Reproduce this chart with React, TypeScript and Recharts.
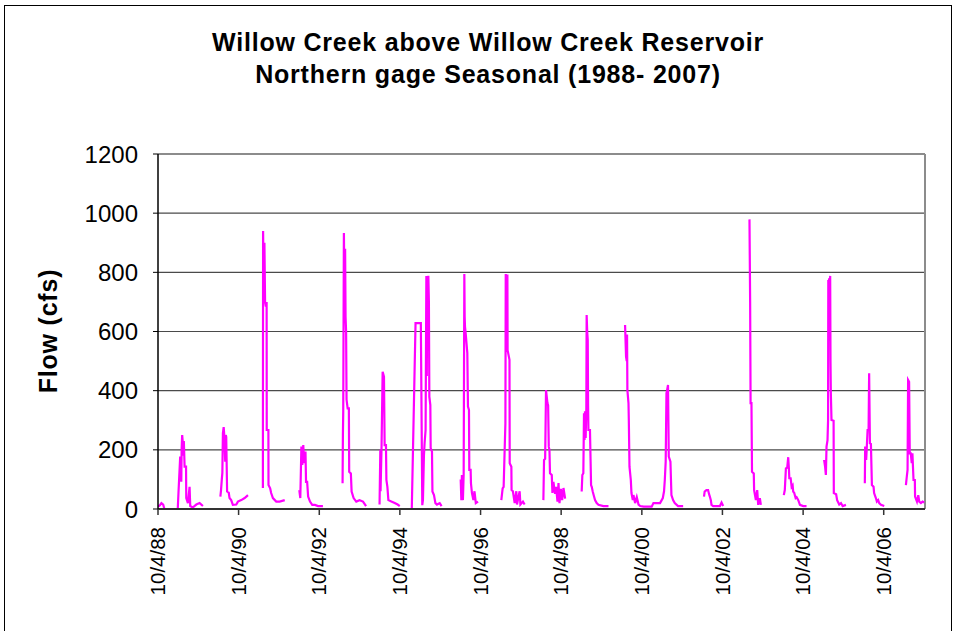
import { LineChart, Line, XAxis, YAxis, CartesianGrid, ReferenceLine } from 'recharts';

type Pt = [string, number];

// daily flow (cfs), one array per gage season
const season1988: Pt[] = [
  ['1988-10-04', 8], ['1988-10-20', 12], ['1988-11-04', 20], ['1988-11-20', 15],
  ['1988-12-01', 0], ['1989-01-25', 0],
];
const season1989: Pt[] = [
  ['1989-04-01', 0], ['1989-04-08', 59], ['1989-04-23', 177], ['1989-05-03', 92],
  ['1989-05-06', 200], ['1989-05-11', 250], ['1989-05-17', 223], ['1989-05-22', 180],
  ['1989-05-26', 230], ['1989-06-02', 143], ['1989-06-15', 143], ['1989-06-17', 37],
  ['1989-07-02', 20], ['1989-07-17', 75], ['1989-07-23', 10], ['1989-08-15', 5],
  ['1989-09-16', 15], ['1989-10-16', 20], ['1989-11-15', 10],
];
const season1990: Pt[] = [
  ['1990-04-22', 42], ['1990-04-28', 64], ['1990-05-05', 100], ['1990-05-10', 122],
  ['1990-05-15', 257], ['1990-05-22', 277], ['1990-05-29', 240], ['1990-06-05', 160],
  ['1990-06-10', 250], ['1990-06-14', 244], ['1990-06-22', 59], ['1990-07-07', 55],
  ['1990-07-14', 37], ['1990-07-29', 30], ['1990-08-13', 14], ['1990-09-13', 15],
  ['1990-09-28', 25], ['1990-10-28', 30], ['1990-11-28', 37], ['1990-12-28', 47],
];
const season1991: Pt[] = [
  ['1991-05-12', 71], ['1991-05-14', 940], ['1991-05-20', 730], ['1991-05-26', 900],
  ['1991-06-01', 700], ['1991-06-08', 684], ['1991-06-15', 700], ['1991-06-16', 267],
  ['1991-07-01', 267], ['1991-07-02', 81], ['1991-07-17', 70], ['1991-07-26', 54],
  ['1991-08-11', 37], ['1991-09-10', 25], ['1991-10-11', 25], ['1991-11-26', 30],
];
const season1992: Pt[] = [
  ['1992-04-06', 64], ['1992-04-15', 37], ['1992-04-25', 211], ['1992-05-03', 149],
  ['1992-05-12', 216], ['1992-05-20', 155], ['1992-06-01', 194], ['1992-06-06', 92],
  ['1992-06-16', 92], ['1992-06-25', 42], ['1992-07-12', 25], ['1992-08-01', 14],
  ['1992-08-25', 14], ['1992-09-23', 10], ['1992-11-06', 10],
];
const season1993: Pt[] = [
  ['1993-05-03', 87], ['1993-05-06', 250], ['1993-05-09', 330], ['1993-05-15', 933],
  ['1993-05-21', 700], ['1993-05-26', 880], ['1993-05-30', 650], ['1993-06-04', 600],
  ['1993-06-08', 370], ['1993-06-18', 340], ['1993-06-29', 340], ['1993-07-02', 126],
  ['1993-07-17', 120], ['1993-07-24', 59], ['1993-08-11', 37], ['1993-09-04', 25],
  ['1993-10-04', 30], ['1993-11-04', 25], ['1993-12-02', 10],
];
const season1994: Pt[] = [
  ['1994-04-03', 15], ['1994-04-10', 200], ['1994-04-12', 60], ['1994-04-21', 210],
  ['1994-05-01', 464], ['1994-05-13', 447], ['1994-05-19', 216], ['1994-05-31', 216],
  ['1994-06-04', 98], ['1994-06-13', 75], ['1994-06-22', 30], ['1994-07-19', 25],
  ['1994-08-18', 20], ['1994-09-14', 15], ['1994-10-03', 10],
];
const season1995: Pt[] = [
  ['1995-01-20', 0], ['1995-02-23', 628], ['1995-04-12', 628], ['1995-04-25', 13],
  ['1995-05-01', 30], ['1995-05-10', 180], ['1995-05-16', 223], ['1995-05-25', 267],
  ['1995-06-01', 788], ['1995-06-05', 450], ['1995-06-09', 780], ['1995-06-14', 550],
  ['1995-06-19', 788], ['1995-06-24', 700], ['1995-06-28', 380], ['1995-07-07', 351],
  ['1995-07-10', 206], ['1995-07-22', 194], ['1995-07-26', 59], ['1995-08-09', 47],
  ['1995-08-22', 20], ['1995-09-05', 15], ['1995-09-30', 20], ['1995-10-17', 10],
];
const season1996: Pt[] = [
  ['1996-04-07', 100], ['1996-04-13', 30], ['1996-04-18', 115], ['1996-04-27', 30],
  ['1996-05-04', 118], ['1996-05-10', 794], ['1996-05-13', 650], ['1996-05-16', 616],
  ['1996-05-22', 595], ['1996-06-06', 527], ['1996-06-12', 346], ['1996-06-21', 335],
  ['1996-06-24', 132], ['1996-07-06', 132], ['1996-07-09', 87], ['1996-07-18', 54],
  ['1996-07-31', 30], ['1996-08-10', 60], ['1996-08-22', 20], ['1996-09-11', 25],
];
const season1997: Pt[] = [
  ['1997-04-10', 30], ['1997-04-22', 70], ['1997-05-01', 75], ['1997-05-17', 290],
  ['1997-05-20', 794], ['1997-05-28', 780], ['1997-06-04', 793], ['1997-06-06', 537],
  ['1997-06-23', 504], ['1997-06-25', 155], ['1997-07-10', 143], ['1997-07-12', 64],
  ['1997-07-24', 60], ['1997-08-09', 20], ['1997-08-24', 60], ['1997-08-30', 15],
  ['1997-09-23', 60], ['1997-09-30', 15], ['1997-10-23', 25], ['1997-11-07', 15],
];
const season1998: Pt[] = [
  ['1998-04-26', 30], ['1998-05-02', 166], ['1998-05-12', 170], ['1998-05-20', 402],
  ['1998-06-02', 358], ['1998-06-08', 350], ['1998-06-14', 210], ['1998-06-20', 200],
  ['1998-06-25', 121], ['1998-07-11', 115], ['1998-07-17', 54], ['1998-07-26', 92],
  ['1998-08-10', 51], ['1998-08-19', 75], ['1998-09-01', 25], ['1998-09-10', 88],
  ['1998-09-19', 20], ['1998-10-01', 68], ['1998-10-13', 30], ['1998-10-25', 71],
  ['1998-11-09', 35],
];
const season1999: Pt[] = [
  ['1999-04-08', 59], ['1999-04-14', 115], ['1999-04-23', 121], ['1999-04-29', 324],
  ['1999-05-04', 233], ['1999-05-08', 330], ['1999-05-14', 240], ['1999-05-20', 340],
  ['1999-05-23', 656], ['1999-05-28', 600], ['1999-06-02', 571], ['1999-06-05', 350],
  ['1999-06-08', 267], ['1999-06-22', 267], ['1999-07-02', 81], ['1999-07-08', 75],
  ['1999-07-17', 59], ['1999-07-29', 42], ['1999-08-07', 30], ['1999-08-22', 20],
  ['1999-09-07', 14], ['1999-10-22', 10], ['1999-12-07', 10],
];
const season2000: Pt[] = [
  ['2000-05-05', 622], ['2000-05-14', 515], ['2000-05-20', 500], ['2000-05-23', 590],
  ['2000-05-26', 402], ['2000-06-05', 358], ['2000-06-08', 301], ['2000-06-14', 143],
  ['2000-06-26', 98], ['2000-07-02', 54], ['2000-07-14', 30], ['2000-07-20', 47],
  ['2000-08-04', 20], ['2000-08-19', 40], ['2000-09-04', 15], ['2000-09-19', 10],
  ['2000-10-20', 8], ['2001-01-01', 8], ['2001-01-17', 20], ['2001-03-18', 20],
  ['2001-04-12', 37], ['2001-04-23', 60], ['2001-04-30', 98], ['2001-05-08', 160],
  ['2001-05-15', 392], ['2001-05-20', 400], ['2001-05-29', 419], ['2001-06-05', 177],
  ['2001-06-20', 160], ['2001-06-29', 47], ['2001-07-14', 30], ['2001-07-29', 20],
  ['2001-08-28', 10], ['2001-10-13', 10],
];
const season2002: Pt[] = [
  ['2002-04-20', 42], ['2002-04-26', 59], ['2002-05-12', 64], ['2002-05-27', 64],
  ['2002-06-05', 50], ['2002-06-12', 42], ['2002-06-21', 30], ['2002-06-27', 14],
  ['2002-07-12', 10], ['2002-09-11', 10], ['2002-09-26', 22], ['2002-10-11', 10],
];
const season2003: Pt[] = [
  ['2003-06-06', 979], ['2003-06-12', 700], ['2003-06-16', 358], ['2003-06-24', 358],
  ['2003-06-29', 126], ['2003-07-15', 120], ['2003-07-18', 64], ['2003-08-03', 30],
  ['2003-08-15', 64], ['2003-08-24', 14], ['2003-09-08', 37], ['2003-09-17', 14],
];
const season2004: Pt[] = [
  ['2004-04-12', 47], ['2004-04-21', 64], ['2004-05-01', 137], ['2004-05-13', 140],
  ['2004-05-22', 175], ['2004-05-28', 137], ['2004-06-01', 104], ['2004-06-13', 104],
  ['2004-06-22', 75], ['2004-07-01', 80], ['2004-07-06', 59], ['2004-07-15', 55],
  ['2004-07-28', 37], ['2004-08-06', 40], ['2004-08-21', 30], ['2004-09-05', 14],
  ['2004-10-05', 10], ['2004-11-04', 10],
];
const season2005: Pt[] = [
  ['2005-04-12', 166], ['2005-04-21', 143], ['2005-04-28', 115], ['2005-05-04', 211],
  ['2005-05-13', 233], ['2005-05-18', 301], ['2005-05-20', 774], ['2005-05-24', 600],
  ['2005-05-27', 780], ['2005-06-01', 650], ['2005-06-06', 788], ['2005-06-09', 500],
  ['2005-06-12', 392], ['2005-06-18', 301], ['2005-07-07', 298], ['2005-07-09', 54],
  ['2005-07-30', 50], ['2005-08-08', 30], ['2005-08-27', 15], ['2005-09-12', 20],
  ['2005-09-27', 10], ['2005-10-27', 14],
];
const season2006: Pt[] = [
  ['2006-04-16', 87], ['2006-04-19', 211], ['2006-04-28', 166], ['2006-05-04', 211],
  ['2006-05-11', 267], ['2006-05-20', 267], ['2006-05-25', 459], ['2006-06-01', 222],
  ['2006-06-10', 220], ['2006-06-19', 81], ['2006-07-04', 75], ['2006-07-09', 54],
  ['2006-07-25', 37], ['2006-08-03', 25], ['2006-08-15', 30], ['2006-08-24', 20],
  ['2006-09-09', 14], ['2006-10-09', 10],
];
const season2007: Pt[] = [
  ['2007-04-23', 81], ['2007-05-01', 109], ['2007-05-08', 132], ['2007-05-13', 436],
  ['2007-05-22', 430], ['2007-05-28', 188], ['2007-06-06', 188], ['2007-06-15', 155],
  ['2007-06-21', 188], ['2007-07-01', 98], ['2007-07-13', 98], ['2007-07-15', 42],
  ['2007-08-01', 25], ['2007-08-13', 47], ['2007-08-22', 25], ['2007-09-06', 20],
  ['2007-09-21', 25], ['2007-10-06', 22],
];

const seasons = [
  season1988, season1989, season1990, season1991, season1992, season1993,
  season1994, season1995, season1996, season1997, season1998, season1999,
  season2000, season2002, season2003, season2004, season2005, season2006, season2007,
];

const tickYears = [1988, 1990, 1992, 1994, 1996, 1998, 2000, 2002, 2004, 2006];
const yTicks = [0, 200, 400, 600, 800, 1000, 1200];

const DAY = 86400000;
const toTime = (s: string) => Date.parse(s + 'T00:00:00Z');

// seasons are joined into one series, with a null after each to break the line
const data: { t: number; flow: number | null }[] = [];
seasons.forEach((s) => {
  s.forEach(([d, v]) => data.push({ t: toTime(d), flow: v }));
  data.push({ t: toTime(s[s.length - 1][0]) + DAY, flow: null });
});

const xStart = Date.UTC(1988, 9, 4);
const xEnd = Date.UTC(2007, 9, 13);
const xTicks = tickYears.map((y) => Date.UTC(y, 9, 4));

const FONT = "'Liberation Sans', Arial, sans-serif";

function DateTick({ x, y, payload }: { x?: number; y?: number; payload?: { value: number } }) {
  if (x == null || y == null || !payload) return null;
  const d = new Date(payload.value);
  const label = `${d.getUTCMonth() + 1}/${d.getUTCDate()}/${String(d.getUTCFullYear()).slice(2)}`;
  return (
    <text
      x={x}
      y={y}
      transform={`rotate(-90 ${x} ${y})`}
      textAnchor="end"
      dy="0.35em"
      fontSize={20.5}
      fill="#000"
    >
      {label}
    </text>
  );
}

export default function App() {
  return (
    <div style={{ position: 'absolute', left: 0, top: 0, width: 954, height: 631, fontFamily: FONT, background: '#fff', overflow: 'hidden' }}>
      <div style={{ position: 'absolute', left: 4, top: 5, width: 946, height: 700, border: '1px solid #000' }} />
      <div
        style={{
          position: 'absolute', left: 0, width: 976, top: 26, textAlign: 'center',
          fontWeight: 'bold', fontSize: 25, letterSpacing: 0.8, lineHeight: '32px',
        }}
      >
        <div>Willow Creek above Willow Creek Reservoir</div>
        <div>Northern gage Seasonal (1988- 2007)</div>
      </div>
      <div
        style={{
          position: 'absolute', left: 48, top: 331, transform: 'translate(-50%, -50%) rotate(-90deg)',
          fontWeight: 'bold', fontSize: 25, letterSpacing: 0.8, whiteSpace: 'nowrap',
        }}
      >
        Flow (cfs)
      </div>
      <div style={{ position: 'absolute', left: 0, top: 0 }}>
        <LineChart width={954} height={631} data={data} margin={{ top: 154, right: 29, bottom: 22, left: 78 }}>
          <CartesianGrid vertical={false} stroke="#4a4a4a" strokeWidth={1.2} />
          <XAxis
            dataKey="t"
            type="number"
            scale="time"
            domain={[xStart, xEnd]}
            ticks={xTicks}
            interval={0}
            allowDataOverflow
            height={100}
            tickSize={6}
            tickMargin={12}
            tick={<DateTick />}
            axisLine={{ stroke: '#333', strokeWidth: 2 }}
            tickLine={{ stroke: '#333', strokeWidth: 1.5 }}
          />
          <YAxis
            type="number"
            domain={[0, 1200]}
            ticks={yTicks}
            interval={0}
            width={80}
            tickSize={5}
            tickMargin={15}
            tick={{ fontSize: 24, fill: '#000' }}
            axisLine={{ stroke: '#000', strokeWidth: 1.5 }}
            tickLine={{ stroke: '#000' }}
          />
          <ReferenceLine y={1200} stroke="#8c8c8c" strokeWidth={2} />
          <ReferenceLine x={xEnd} stroke="#8c8c8c" strokeWidth={2} />
          <Line
            type="linear"
            dataKey="flow"
            stroke="#ff00ff"
            strokeWidth={2.2}
            dot={false}
            connectNulls={false}
            isAnimationActive={false}
          />
        </LineChart>
      </div>
    </div>
  );
}
